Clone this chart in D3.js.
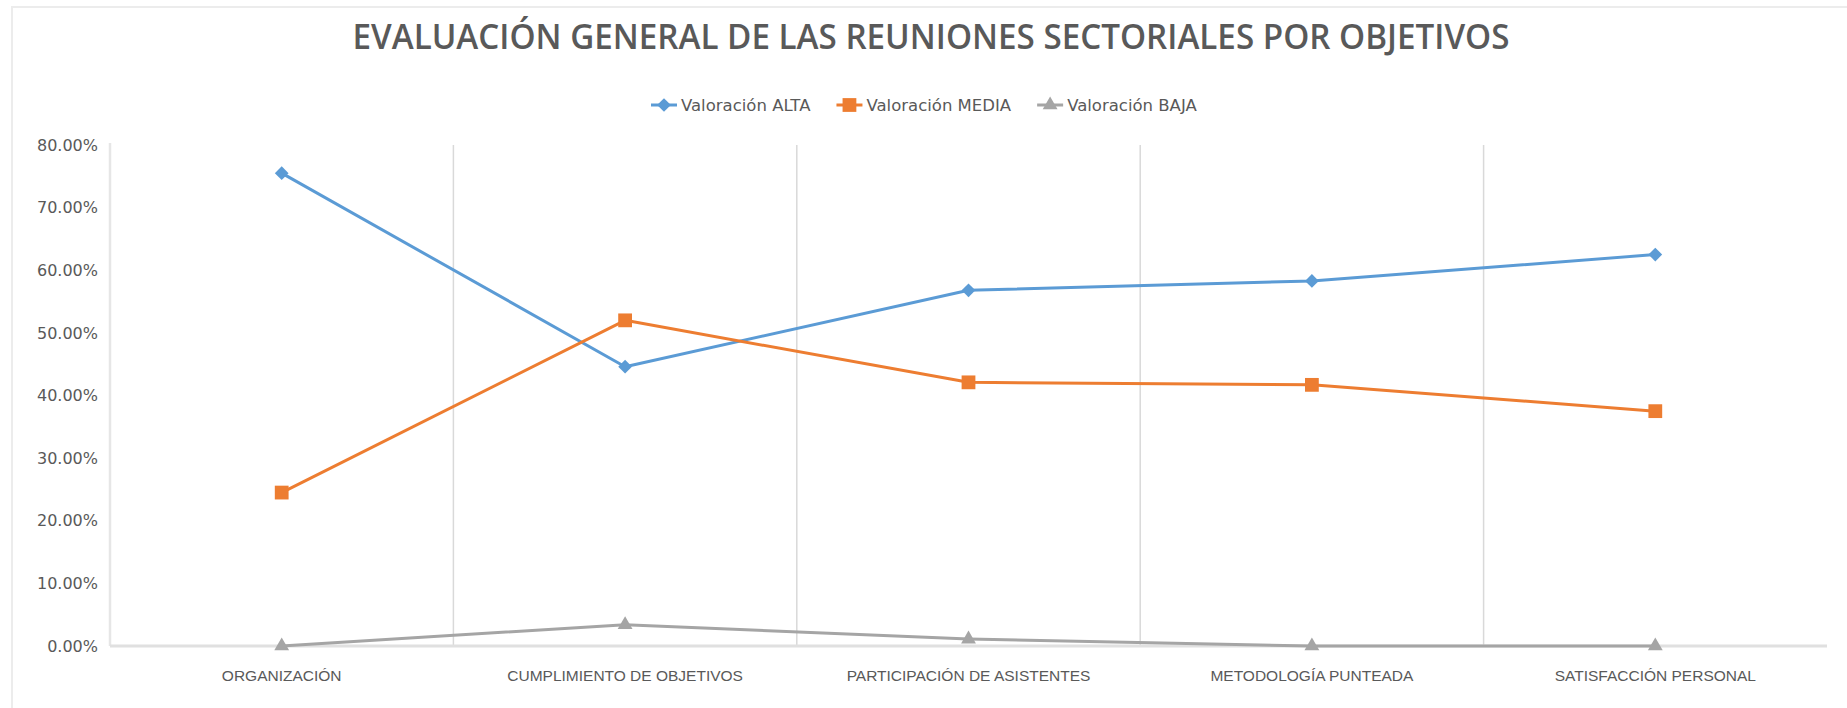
<!DOCTYPE html>
<html>
<head>
<meta charset="utf-8">
<script src="https://cdn.jsdelivr.net/npm/d3@7"></script>
<style>
    body { margin: 0; background: #fff; }
    svg { display: block; }
</style>
</head>
<body>
<svg id="chart"></svg>
<script>
// Evaluación general de las reuniones sectoriales por objetivos
const categories = ['ORGANIZACIÓN', 'CUMPLIMIENTO DE OBJETIVOS', 'PARTICIPACIÓN DE ASISTENTES', 'METODOLOGÍA PUNTEADA', 'SATISFACCIÓN PERSONAL'];
const seriesNames = ['Valoración ALTA', 'Valoración MEDIA', 'Valoración BAJA'];
const alta = [0.755, 0.446, 0.568, 0.583, 0.625];
const media = [0.245, 0.520, 0.421, 0.417, 0.375];
const baja = [0.000, 0.034, 0.011, 0.000, 0.000];
const yTicks = [0, 0.1, 0.2, 0.3, 0.4, 0.5, 0.6, 0.7, 0.8];

(function() {
    const W = 1847, H = 708;
    const left = 110, right = 1827, top = 145, bottom = 646;
    const textColor = '#595959';
    const lineColor = '#d9d9d9';

    const svg = d3.select('#chart').attr('width', W).attr('height', H);

    // faint chart-area border (left and top edges visible)
    svg.append('path')
        .attr('d', 'M12,' + H + 'V7H' + W)
        .attr('fill', 'none')
        .attr('stroke', '#ececec')
        .attr('stroke-width', 2);

    const x = d3.scaleBand().domain(categories).range([left, right]);
    const y = d3.scaleLinear().domain([0, 0.8]).range([bottom, top]);
    const cx = c => x(c) + x.bandwidth() / 2;

    // vertical gridlines between categories
    svg.append('g').selectAll('line')
        .data(categories.slice(1)).enter().append('line')
        .attr('x1', d => x(d)).attr('x2', d => x(d))
        .attr('y1', top).attr('y2', bottom)
        .attr('stroke', lineColor).attr('stroke-width', 1.5);

    // axis lines
    svg.append('line')
        .attr('x1', left).attr('x2', left).attr('y1', top - 2).attr('y2', bottom)
        .attr('stroke', '#e6e6e6').attr('stroke-width', 2.5);
    svg.append('line')
        .attr('x1', left).attr('x2', right).attr('y1', bottom).attr('y2', bottom)
        .attr('stroke', '#e0e0e0').attr('stroke-width', 3);

    // y axis
    const yAxis = svg.append('g')
        .attr('transform', 'translate(' + (left - 2) + ',0)')
        .call(d3.axisLeft(y).tickValues(yTicks).tickFormat(d3.format('.2%')).tickSize(0).tickPadding(10));
    yAxis.select('.domain').remove();
    yAxis.selectAll('text')
        .attr('fill', textColor)
        .style('font-family', '"DejaVu Sans", sans-serif')
        .style('font-size', '16px');

    // x axis
    const xAxis = svg.append('g')
        .attr('transform', 'translate(0,' + bottom + ')')
        .call(d3.axisBottom(x).tickSize(0).tickPadding(24));
    xAxis.select('.domain').remove();
    xAxis.selectAll('text')
        .attr('fill', textColor)
        .style('font-family', '"Liberation Sans", Arial, sans-serif')
        .style('font-size', '15.5px');

    // series
    const series = [
        { name: seriesNames[0], values: alta, color: '#5B9BD5', symbol: d3.symbolDiamond2, size: 120 },
        { name: seriesNames[1], values: media, color: '#ED7D31', symbol: d3.symbolSquare, size: 190 },
        { name: seriesNames[2], values: baja, color: '#A5A5A5', symbol: d3.symbolTriangle, size: 95 }
    ];

    const line = d3.line()
        .x((d, i) => cx(categories[i]))
        .y(d => y(d));

    series.forEach(s => {
        const g = svg.append('g');
        g.append('path')
            .attr('d', line(s.values))
            .attr('fill', 'none')
            .attr('stroke', s.color)
            .attr('stroke-width', 3)
            .attr('stroke-linejoin', 'round');
        g.selectAll('path.mark').data(s.values).enter().append('path')
            .attr('class', 'mark')
            .attr('d', d3.symbol().type(s.symbol).size(s.size))
            .attr('transform', (d, i) => 'translate(' + cx(categories[i]) + ',' + y(d) + ')')
            .attr('fill', s.color);
    });

    // title
    svg.append('text')
        .attr('x', 931).attr('y', 49)
        .attr('text-anchor', 'middle')
        .attr('fill', textColor)
        .attr('textLength', 1157)
        .attr('lengthAdjust', 'spacingAndGlyphs')
        .style('font-family', '"Open Sans", sans-serif')
        .style('font-weight', 600)
        .style('font-size', '35px')
        .text('EVALUACIÓN GENERAL DE LAS REUNIONES SECTORIALES POR OBJETIVOS');

    // legend
    const legend = svg.append('g');
    const ly = 105;
    let lx = 651;
    series.forEach(s => {
        const item = legend.append('g');
        item.append('line')
            .attr('x1', lx).attr('x2', lx + 26).attr('y1', ly).attr('y2', ly)
            .attr('stroke', s.color).attr('stroke-width', 3);
        item.append('path')
            .attr('d', d3.symbol().type(s.symbol).size(s.size)())
            .attr('transform', 'translate(' + (lx + 13) + ',' + ly + ')')
            .attr('fill', s.color);
        const t = item.append('text')
            .attr('x', lx + 30).attr('y', ly).attr('dy', '0.35em')
            .attr('fill', textColor)
            .style('font-family', '"DejaVu Sans", sans-serif')
            .style('font-size', '16.5px')
            .text(s.name);
        lx += 30 + t.node().getComputedTextLength() + 26;
    });
})();
</script>
</body>
</html>
